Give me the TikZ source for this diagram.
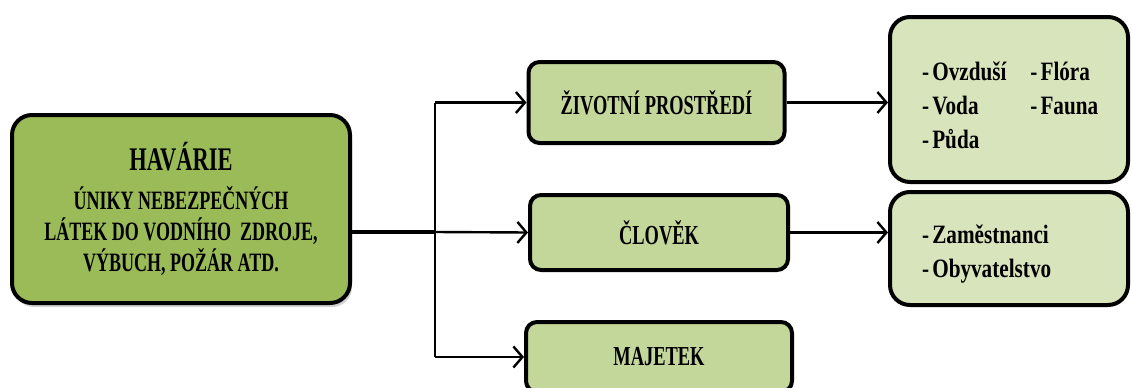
\documentclass[tikz,border=0pt]{standalone}
\usepackage{fontspec}
\setmainfont{Liberation Serif}
\newfontfamily\hfont[FakeStretch=0.68]{Liberation Serif}
\newfontfamily\mfont[FakeStretch=0.67]{Liberation Serif}
\newfontfamily\rfont[FakeStretch=0.80]{Liberation Serif}
\usetikzlibrary{arrows.meta,shadows}
\definecolor{hgreen}{HTML}{9BBB59}
\definecolor{mgreen}{HTML}{C4D79B}
\definecolor{lgreen}{HTML}{D8E4BC}
\newcommand{\dsh}{-\kern3pt}
\tikzset{
  boxbase/.style={draw=black, line width=4pt, inner sep=0pt},
  mainbox/.style={boxbase, fill=hgreen, rounded corners=20pt,
    minimum width=338pt, minimum height=188pt,
    drop shadow={shadow xshift=2pt, shadow yshift=-4pt, opacity=0.35, fill=gray},
    align=center, font=\hfont\bfseries\fontsize{26.5}{31}\selectfont},
  midbox/.style={boxbase, fill=mgreen, rounded corners=11pt,
    minimum width=256pt, font=\mfont\bfseries\fontsize{27.5}{30}\selectfont},
  sidebox/.style={boxbase, fill=lgreen, rounded corners=20pt, minimum width=238pt},
  sidetext/.style={inner sep=0pt, anchor=base west,
    font=\rfont\bfseries\fontsize{26.5}{34}\selectfont},
  conn/.style={line width=2.4pt, -{Straight Barb[length=9pt,width=21pt,line width=2.4pt]}},
  trunk/.style={line width=4pt},
  vline/.style={line width=2.4pt}
}
\begin{document}
\begin{tikzpicture}[x=1pt,y=-1pt]
\useasboundingbox (0,0) rectangle (1132,388);
\fill[white] (0,0) rectangle (1132,388);

\node[mainbox] (hav) at (181,209)
  {{\fontsize{33}{40}\selectfont HAVÁRIE}\\[8pt]
   ÚNIKY NEBEZPEČNÝCH\\
   LÁTEK DO VODNÍHO\ \ ZDROJE,\\
   VÝBUCH, POŽÁR ATD.};

\node[midbox, minimum height=81pt] (zp) at (656.5,102.5) {ŽIVOTNÍ PROSTŘEDÍ};
\node[midbox, minimum height=75pt, minimum width=258pt] (clo) at (659,232.5) {ČLOVĚK};
\node[midbox, minimum height=70pt, minimum width=266pt] (maj) at (659,357) {MAJETEK};

\node[sidebox, minimum height=165pt] (r1) at (1009,99.5) {};
\node[sidebox, minimum height=113pt] (r2) at (1009,248.5) {};
\node[sidetext] (r1t) at (922,80)
  {\begin{tabular}[t]{@{}l@{\hspace{24pt}}l@{}}
   \dsh Ovzduší & \dsh Flóra\\
   \dsh Voda & \dsh Fauna\\
   \dsh Půda &
   \end{tabular}};
\node[sidetext] (r2t) at (922,243)
  {\begin{tabular}[t]{@{}l@{}}
   \dsh Zaměstnanci\\
   \dsh Obyvatelstvo
   \end{tabular}};

\coordinate (j) at (435,232);
\draw[trunk] (hav.east |- j) -- (j);
\draw[vline] (j |- zp) -- (j |- maj);
\draw[conn] (j) -- (clo.west);
\draw[conn] (j |- zp) -- (zp.west);
\draw[conn] (j |- maj) -- (maj.west);
\draw[conn] (zp.east) -- (zp.east -| r1.west);
\draw[conn] (clo.east) -- (clo.east -| r2.west);
\end{tikzpicture}
\end{document}
